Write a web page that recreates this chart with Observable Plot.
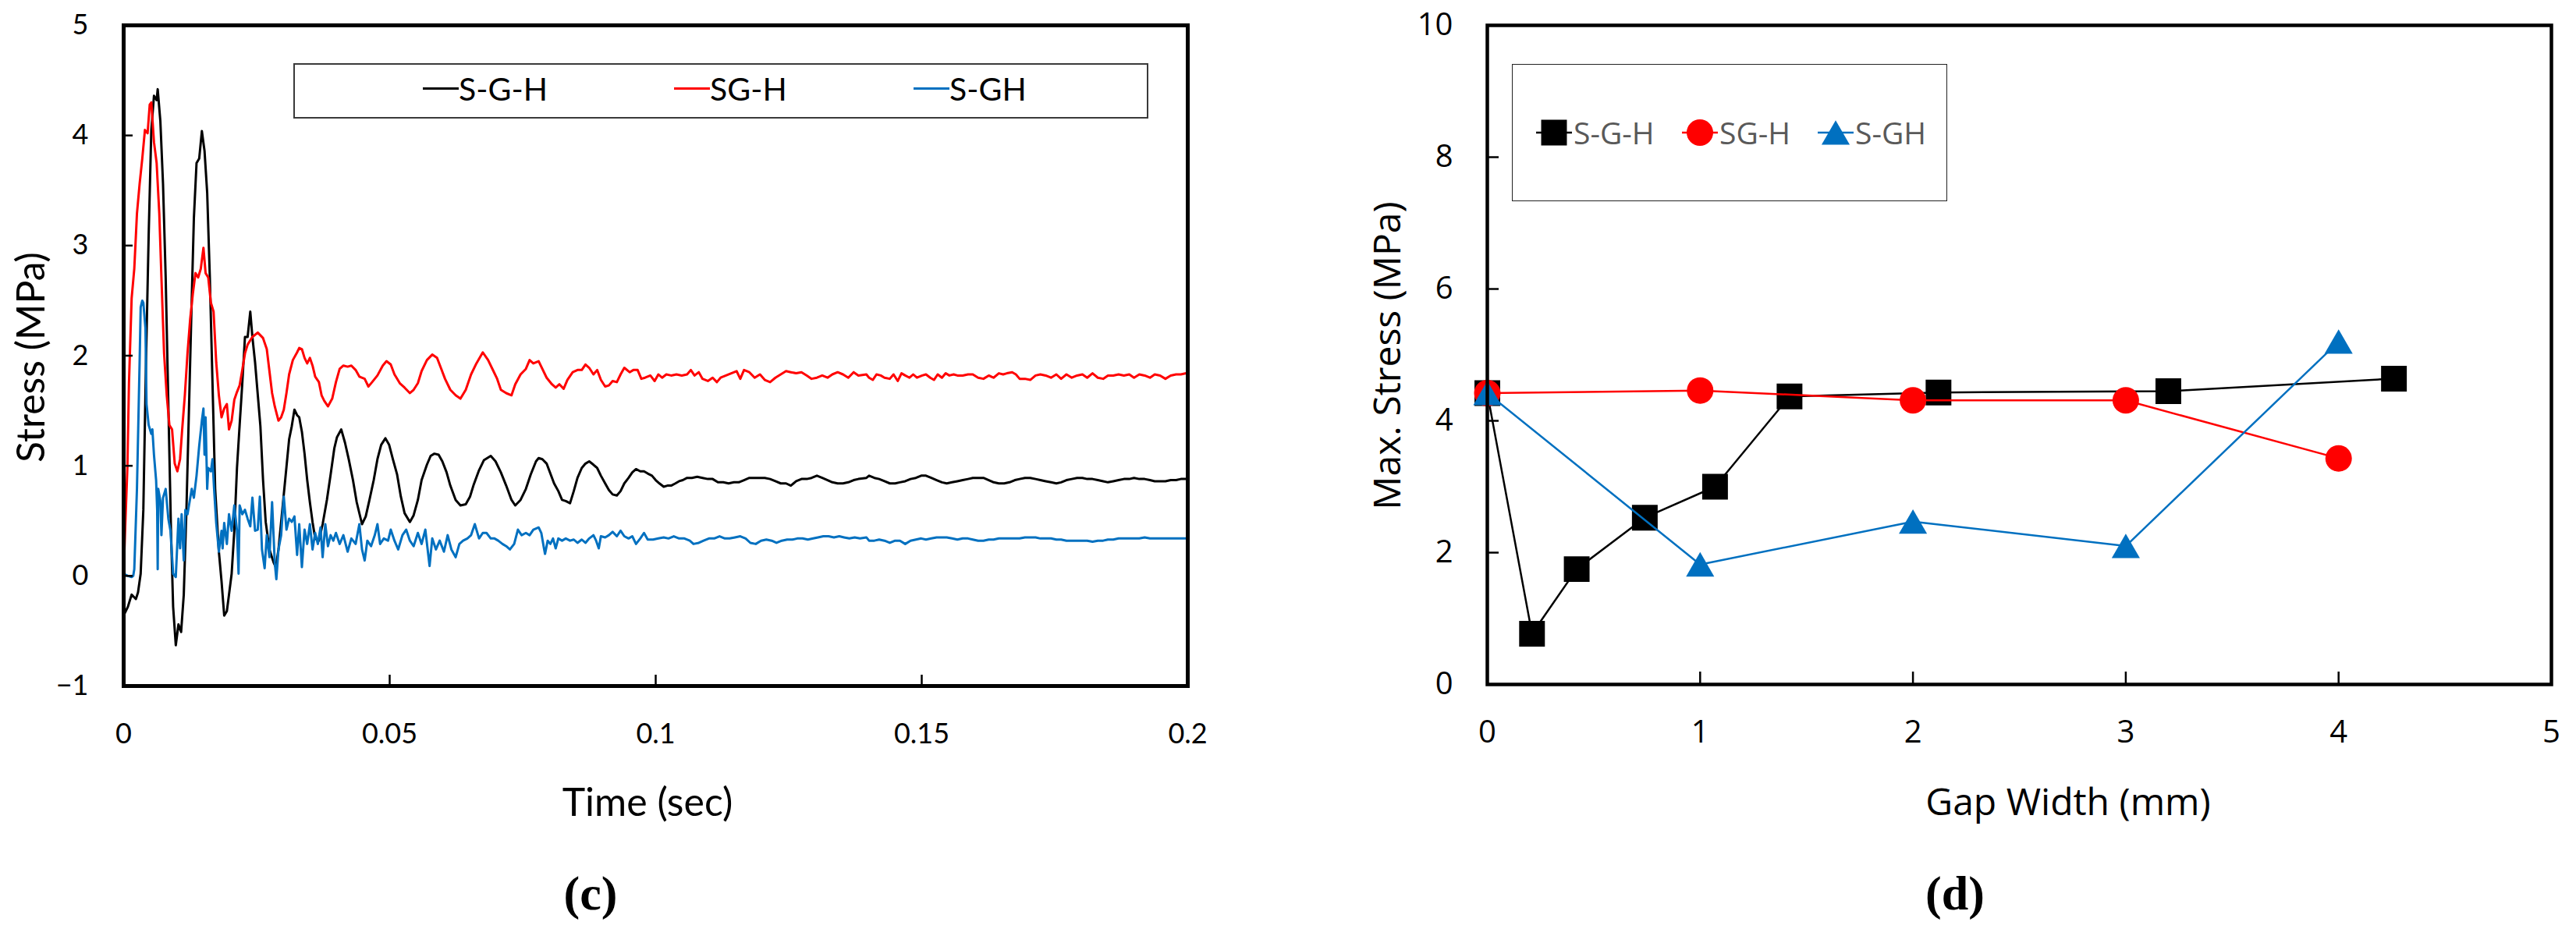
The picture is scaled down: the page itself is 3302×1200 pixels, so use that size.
<!DOCTYPE html>
<html>
<head>
<meta charset="utf-8">
<script src="https://cdn.jsdelivr.net/npm/d3@7"></script>
<script src="https://cdn.jsdelivr.net/npm/@observablehq/plot@0.6"></script>
<style>
  html, body { margin: 0; padding: 0; background: #fff; }
  #page { position: relative; width: 3302px; height: 1200px; overflow: hidden; background: #fff; }
  .abs { position: absolute; white-space: nowrap; }
  .lato { font-family: Lato, sans-serif; color: #000; }
  .open { font-family: "Open Sans", sans-serif; color: #000; }
  .cap { font-family: "Liberation Serif", "Times New Roman", serif; font-weight: bold; font-size: 62px; line-height: 62px; }
</style>
</head>
<body>
<div id="page"></div>
<script>
// ---------- data ----------
const seriesNames = ["S-G-H", "SG-H", "S-GH"];
const seriesColors = ["#000000", "#ff0000", "#0070c0"];
const seriesSymbols = ["square", "circle", "triangle"];

const timeTicks = [0, 0.05, 0.1, 0.15, 0.2];
const stressTicks = [-1, 0, 1, 2, 3, 4, 5];
const gapTicks = [0, 1, 2, 3, 4, 5];
const maxStressTicks = [0, 2, 4, 6, 8, 10];

// (c) stress history [time s, stress MPa]
const timeSGH = [
[0,-0.36],[0.0008,-0.28],[0.0015,-0.17],[0.0023,-0.21],[0.0027,-0.15],[0.0032,0.02],[0.0037,0.6],[0.0042,1.94],[0.0047,3.09],[0.0052,4.05],[0.0057,4.36],[0.0062,4.32],[0.0064,4.42],[0.0069,4.13],[0.0074,3.56],[0.0079,2.71],[0.0084,1.56],[0.0089,0.41],[0.0093,-0.28],[0.0098,-0.63],[0.0103,-0.44],[0.0108,-0.51],[0.0113,-0.17],[0.0118,0.6],[0.0123,1.56],[0.0128,2.52],[0.0132,3.25],[0.0137,3.75],[0.0142,3.79],[0.0147,4.04],[0.0152,3.86],[0.0157,3.48],[0.0162,2.71],[0.0167,1.75],[0.0172,0.79],[0.0179,0.22],[0.0184,-0.05],[0.0189,-0.36],[0.0194,-0.32],[0.0198,-0.17],[0.0203,0.02],[0.0208,0.41],[0.0213,0.98],[0.0218,1.37],[0.0223,1.75],[0.0228,2.17],[0.0233,2.17],[0.0238,2.40],[0.0242,2.17],[0.0247,1.94],
[0.0257,1.36],[0.0262,0.87],[0.0267,0.49],[0.0274,0.24],[0.0282,0.12],[0.0286,0.08],[0.0291,0.24],[0.0296,0.49],[0.0301,0.74],[0.0306,0.99],[0.0311,1.24],[0.0316,1.36],[0.0321,1.51],[0.0326,1.46],[0.0330,1.44],[0.0335,1.31],[0.0340,1.11],[0.0345,0.87],[0.0350,0.67],[0.0355,0.49],[0.0360,0.34],[0.0367,0.32],[0.0374,0.47],[0.0382,0.69],[0.0389,0.92],[0.0396,1.16],[0.0401,1.26],[0.0409,1.33],[0.0416,1.21],[0.0423,1.06],[0.0431,0.87],[0.0438,0.67],[0.0448,0.47],[0.0455,0.54],[0.0462,0.69],[0.0470,0.87],[0.0477,1.06],[0.0484,1.19],[0.0492,1.25],[0.0499,1.19],[0.0506,1.06],[0.0514,0.92],[0.0521,0.72],[0.0528,0.57],[0.0538,0.49],[0.0545,0.55],[0.0553,0.69],[0.0560,0.87],[0.0570,1.01],[0.0577,1.09],[0.0584,1.11],[0.0592,1.10],[0.0599,1.04],[0.0607,0.94],[0.0614,0.82],[0.0624,0.69],[0.0633,0.64],[0.0643,0.65],[0.0651,0.72],[0.0658,0.83],[0.0668,0.96],[0.0677,1.05],[0.0690,1.09],[0.0699,1.04],[0.0709,0.94],[0.0719,0.82],[0.0729,0.69],[0.0736,0.64],[0.0746,0.69],[0.0756,0.79],[0.0765,0.92],[0.0775,1.04],
[0.0780,1.07],[0.0787,1.06],[0.0795,1.02],[0.0802,0.93],[0.0809,0.84],[0.0817,0.77],[0.0824,0.69],[0.0831,0.68],[0.0839,0.66],[0.0846,0.77],[0.0853,0.89],[0.0861,0.98],[0.0868,1.02],[0.0875,1.04],[0.0883,1.01],[0.0890,0.98],[0.0897,0.91],[0.0905,0.84],[0.0912,0.78],[0.0919,0.74],[0.0927,0.73],[0.0934,0.77],[0.0941,0.84],[0.0949,0.89],[0.0956,0.94],[0.0963,0.97],[0.0971,0.95],[0.0978,0.95],[0.0985,0.93],[0.0993,0.91],[0.1000,0.87],[0.1007,0.84],[0.1015,0.81],[0.1022,0.82],[0.1029,0.82],[0.1037,0.84],[0.1044,0.86],[0.1051,0.87],[0.1059,0.89],[0.1068,0.89],[0.1078,0.90],[0.1088,0.89],[0.1098,0.88],[0.1107,0.88],[0.1117,0.85],[0.1127,0.85],[0.1137,0.84],[0.1147,0.85],[0.1156,0.85],[0.1166,0.87],[0.1176,0.89],[0.1186,0.89],[0.1196,0.89],[0.1205,0.89],[0.1215,0.88],[0.1225,0.86],[0.1235,0.84],[0.1245,0.84],[0.1254,0.82],[0.1264,0.86],[0.1274,0.88],[0.1284,0.88],[0.1293,0.89],[0.1303,0.91],[0.1313,0.89],[0.1323,0.87],[0.1332,0.85],[0.1342,0.84],[0.1352,0.84],[0.1362,0.85],[0.1372,0.87],[0.1381,0.88],[0.1396,0.89],
[0.1401,0.91],[0.1411,0.89],[0.1420,0.88],[0.1430,0.86],[0.1440,0.84],[0.1450,0.84],[0.1459,0.85],[0.1469,0.86],[0.1479,0.88],[0.1489,0.89],[0.1499,0.91],[0.1508,0.91],[0.1518,0.89],[0.1528,0.87],[0.1538,0.85],[0.1547,0.84],[0.1557,0.85],[0.1567,0.86],[0.1577,0.87],[0.1587,0.88],[0.1596,0.89],[0.1606,0.89],[0.1616,0.89],[0.1626,0.87],[0.1635,0.85],[0.1645,0.84],[0.1655,0.84],[0.1665,0.85],[0.1675,0.87],[0.1684,0.88],[0.1694,0.89],[0.1704,0.89],[0.1714,0.88],[0.1723,0.87],[0.1733,0.86],[0.1743,0.85],[0.1753,0.84],[0.1762,0.85],[0.1772,0.87],[0.1782,0.88],[0.1792,0.89],[0.1802,0.89],[0.1811,0.88],[0.1821,0.88],[0.1831,0.87],[0.1841,0.86],[0.1850,0.85],[0.1860,0.86],[0.1870,0.87],[0.1880,0.88],[0.1890,0.88],[0.1899,0.89],[0.1909,0.88],[0.1919,0.88],[0.1929,0.87],[0.1938,0.86],[0.1948,0.86],[0.1958,0.86],[0.1968,0.87],[0.1978,0.87],[0.1987,0.88],[0.2,0.88]
];

const timeSG_H = [
[0,0.02],[0.0003,0.45],[0.0007,0.98],[0.001,1.75],[0.0015,2.52],[0.002,2.79],[0.0025,3.29],[0.003,3.56],[0.0035,3.79],[0.004,4.05],[0.0045,4.02],[0.0049,4.28],[0.0052,4.30],[0.0057,3.94],[0.0062,3.75],[0.0067,3.29],[0.0071,2.71],[0.0076,2.02],[0.0081,1.64],[0.0086,1.37],[0.0091,1.33],[0.0096,1.02],[0.0101,0.95],[0.0106,1.06],[0.011,1.33],[0.0115,1.64],[0.012,2.02],[0.0125,2.33],[0.013,2.56],[0.0135,2.75],[0.014,2.71],[0.0145,2.79],[0.015,2.98],[0.0154,2.75],[0.0159,2.71],[0.0164,2.48],[0.0169,2.40],[0.0174,1.94],[0.0179,1.64],[0.0184,1.44],[0.0189,1.52],[0.0194,1.56],[0.0198,1.33],[0.0203,1.41],[0.0208,1.60],[0.0213,1.67],[0.0218,1.73],[0.0223,1.87],[0.0228,2.02],[0.0233,2.10],[0.0238,2.14],[0.0242,2.17],[0.0252,2.21],
[0.0262,2.16],[0.0269,2.06],[0.0274,1.86],[0.0279,1.66],[0.0284,1.54],[0.0291,1.41],[0.0296,1.44],[0.0301,1.51],[0.0306,1.66],[0.0311,1.83],[0.0318,1.96],[0.0326,2.03],[0.0330,2.07],[0.0335,2.06],[0.0340,1.98],[0.0345,1.93],[0.0350,1.98],[0.0355,1.91],[0.0360,1.81],[0.0367,1.76],[0.0372,1.64],[0.0377,1.59],[0.0384,1.54],[0.0392,1.61],[0.0399,1.76],[0.0406,1.88],[0.0413,1.91],[0.0421,1.90],[0.0428,1.91],[0.0436,1.87],[0.0443,1.81],[0.0453,1.79],[0.0460,1.72],[0.0467,1.76],[0.0477,1.82],[0.0487,1.91],[0.0494,1.95],[0.0502,1.92],[0.0509,1.83],[0.0519,1.75],[0.0528,1.71],[0.0538,1.66],[0.0545,1.69],[0.0553,1.75],[0.0560,1.86],[0.0570,1.96],[0.0580,2.01],[0.0589,1.98],[0.0597,1.88],[0.0604,1.79],[0.0614,1.69],[0.0624,1.64],[0.0633,1.61],[0.0643,1.69],[0.0653,1.83],[0.0663,1.93],[0.0675,2.03],[0.0685,1.96],[0.0695,1.86],[0.0702,1.79],[0.0709,1.69],[0.0719,1.66],[0.0729,1.64],[0.0736,1.74],[0.0746,1.83],[0.0756,1.88],[0.0763,1.96],[0.0770,1.93],[0.0780,1.95],
[0.0795,1.80],[0.0805,1.74],[0.0812,1.71],[0.0819,1.74],[0.0827,1.70],[0.0834,1.78],[0.0844,1.85],[0.0853,1.87],[0.0861,1.87],[0.0868,1.92],[0.0875,1.89],[0.0883,1.83],[0.0890,1.87],[0.0897,1.78],[0.0905,1.72],[0.0912,1.73],[0.0919,1.77],[0.0927,1.76],[0.0934,1.83],[0.0941,1.89],[0.0951,1.85],[0.0958,1.87],[0.0966,1.87],[0.0973,1.79],[0.0980,1.80],[0.0990,1.82],[0.0998,1.77],[0.1005,1.83],[0.1012,1.80],[0.1020,1.83],[0.1029,1.82],[0.1039,1.83],[0.1049,1.82],[0.1059,1.83],[0.1066,1.87],[0.1073,1.82],[0.1081,1.85],[0.1088,1.79],[0.1098,1.77],[0.1107,1.80],[0.1115,1.76],[0.1122,1.80],[0.1132,1.82],[0.1142,1.84],[0.1152,1.86],[0.1159,1.79],[0.1166,1.87],[0.1176,1.85],[0.1186,1.80],[0.1196,1.83],[0.1205,1.78],[0.1215,1.76],[0.1225,1.80],[0.1235,1.83],[0.1245,1.86],[0.1254,1.85],[0.1264,1.84],[0.1274,1.85],[0.1284,1.82],[0.1293,1.79],[0.1303,1.80],[0.1313,1.82],[0.1323,1.80],[0.1332,1.83],[0.1342,1.85],[0.1352,1.83],[0.1362,1.80],[0.1372,1.85],[0.1381,1.82],[0.1396,1.83],
[0.1401,1.80],[0.1408,1.78],[0.1415,1.83],[0.1423,1.82],[0.1430,1.80],[0.1440,1.79],[0.1447,1.83],[0.1455,1.77],[0.1462,1.84],[0.1469,1.82],[0.1477,1.80],[0.1484,1.83],[0.1491,1.80],[0.1501,1.82],[0.1508,1.83],[0.1516,1.80],[0.1523,1.78],[0.1530,1.83],[0.1538,1.80],[0.1545,1.84],[0.1552,1.82],[0.1560,1.83],[0.1567,1.82],[0.1577,1.82],[0.1587,1.83],[0.1596,1.83],[0.1606,1.80],[0.1616,1.79],[0.1626,1.82],[0.1635,1.80],[0.1645,1.84],[0.1653,1.83],[0.1660,1.84],[0.1670,1.85],[0.1677,1.83],[0.1684,1.79],[0.1694,1.79],[0.1704,1.78],[0.1714,1.82],[0.1723,1.83],[0.1733,1.82],[0.1743,1.80],[0.1753,1.83],[0.1762,1.79],[0.1772,1.83],[0.1782,1.80],[0.1792,1.82],[0.1802,1.83],[0.1811,1.80],[0.1821,1.84],[0.1831,1.80],[0.1841,1.79],[0.1850,1.82],[0.1860,1.82],[0.1870,1.83],[0.1880,1.82],[0.1890,1.83],[0.1899,1.80],[0.1909,1.83],[0.1919,1.82],[0.1929,1.80],[0.1938,1.83],[0.1948,1.82],[0.1958,1.79],[0.1968,1.82],[0.1978,1.83],[0.1987,1.83],[0.1997,1.84],[0.2,1.83]
];

const timeS_GH = [
[0,0.02],[0.0008,0],[0.0015,-0.01],[0.0018,0.0],[0.002,0.06],[0.0025,0.79],[0.003,1.94],[0.0032,2.44],[0.0035,2.50],[0.0037,2.48],[0.0041,2.25],[0.0043,1.56],[0.0047,1.37],[0.0052,1.29],[0.0054,1.33],[0.0057,1.10],[0.0061,0.87],[0.0063,0.60],[0.0064,0.06],[0.0065,0.79],[0.0069,0.68],[0.0071,0.37],[0.0074,0.71],[0.0079,0.79],[0.0084,0.52],[0.0088,0.41],[0.0093,0.02],[0.0098,-0.01],[0.0103,0.52],[0.0106,0.25],[0.0109,0.56],[0.0113,0.14],[0.0116,0.60],[0.012,0.56],[0.0128,0.79],[0.0132,0.71],[0.0137,0.91],[0.0142,1.18],[0.0147,1.41],[0.015,1.52],[0.0152,1.10],[0.0154,1.44],[0.0157,0.79],[0.0159,0.98],[0.0164,0.95],[0.0167,1.06],[0.017,0.79],[0.0174,0.48],[0.0179,0.22],[0.0184,0.41],[0.0186,0.25],[0.0189,0.48],[0.0194,0.29],[0.0198,0.56],[0.0203,0.41],[0.0208,0.64],[0.0213,0.41],[0.0216,0.02],[0.0218,0.64],[0.0223,0.56],[0.0228,0.60],[0.0233,0.52],[0.0238,0.45],[0.0242,0.71],[0.0247,0.41],
[0.0252,0.42],[0.0256,0.72],[0.026,0.24],[0.0265,0.07],[0.0269,0.37],[0.0274,0.17],[0.0279,0.67],[0.0284,0.12],[0.0287,-0.03],[0.0291,0.24],[0.0296,0.37],[0.0301,0.72],[0.0306,0.42],[0.0311,0.52],[0.0316,0.49],[0.0321,0.54],[0.0326,0.19],[0.033,0.47],[0.0335,0.08],[0.034,0.42],[0.0345,0.29],[0.035,0.47],[0.0355,0.24],[0.036,0.39],[0.0365,0.29],[0.037,0.44],[0.0374,0.17],[0.0379,0.47],[0.0384,0.27],[0.0389,0.37],[0.0394,0.32],[0.0399,0.39],[0.0406,0.29],[0.0413,0.37],[0.0421,0.22],[0.0428,0.34],[0.0436,0.29],[0.0443,0.47],[0.0448,0.24],[0.0453,0.14],[0.0458,0.32],[0.0465,0.27],[0.0472,0.37],[0.0477,0.47],[0.0482,0.29],[0.0489,0.34],[0.0497,0.32],[0.0502,0.42],[0.0509,0.32],[0.0516,0.24],[0.0524,0.37],[0.0531,0.42],[0.0538,0.32],[0.0545,0.27],[0.0553,0.39],[0.056,0.29],[0.0567,0.42],[0.0575,0.09],[0.058,0.34],[0.0587,0.24],[0.0594,0.32],[0.0602,0.22],[0.0609,0.37],[0.0616,0.24],[0.0624,0.17],[0.0631,0.29],[0.0638,0.32],[0.0646,0.34],[0.0653,0.37],[0.066,0.47],[0.0668,0.34],[0.0675,0.39],[0.0682,0.39],[0.069,0.34],[0.0697,0.34],[0.0704,0.32],[0.0712,0.29],[0.0719,0.27],[0.0726,0.24],[0.0734,0.29],[0.0741,0.42],[0.0748,0.37],[0.0756,0.39],[0.0763,0.37],[0.077,0.42],[0.078,0.44],
[0.0785,0.39],[0.079,0.25],[0.0792,0.20],[0.0797,0.32],[0.0802,0.29],[0.0807,0.34],[0.0812,0.25],[0.0817,0.34],[0.0824,0.32],[0.0831,0.34],[0.0839,0.32],[0.0846,0.33],[0.0853,0.30],[0.0861,0.33],[0.0868,0.30],[0.0875,0.34],[0.0883,0.37],[0.0888,0.32],[0.0893,0.25],[0.0897,0.36],[0.0905,0.35],[0.0912,0.37],[0.0919,0.40],[0.0927,0.36],[0.0934,0.41],[0.0941,0.36],[0.0949,0.34],[0.0956,0.36],[0.0963,0.29],[0.0971,0.34],[0.0978,0.39],[0.0985,0.33],[0.0995,0.33],[0.1005,0.34],[0.1015,0.35],[0.1024,0.34],[0.1034,0.36],[0.1044,0.34],[0.1054,0.34],[0.1064,0.32],[0.1071,0.29],[0.1081,0.30],[0.109,0.32],[0.11,0.34],[0.111,0.34],[0.112,0.36],[0.113,0.34],[0.1139,0.34],[0.1149,0.35],[0.1159,0.36],[0.1169,0.34],[0.1178,0.30],[0.1188,0.29],[0.1198,0.32],[0.1208,0.33],[0.1218,0.32],[0.1227,0.30],[0.1237,0.32],[0.1247,0.33],[0.1257,0.33],[0.1266,0.34],[0.1276,0.34],[0.1286,0.33],[0.1296,0.34],[0.1305,0.35],[0.1315,0.36],[0.1325,0.36],[0.1335,0.35],[0.1345,0.36],[0.1354,0.35],[0.1364,0.34],[0.1374,0.35],[0.1384,0.34],[0.1396,0.35],
[0.1401,0.32],[0.1411,0.32],[0.142,0.33],[0.143,0.32],[0.144,0.30],[0.145,0.32],[0.1459,0.32],[0.1469,0.29],[0.1479,0.32],[0.1489,0.33],[0.1499,0.34],[0.1508,0.33],[0.1518,0.34],[0.1528,0.35],[0.1538,0.35],[0.1547,0.35],[0.1557,0.34],[0.1567,0.33],[0.1577,0.34],[0.1587,0.34],[0.1596,0.33],[0.1606,0.32],[0.1616,0.32],[0.1626,0.33],[0.1635,0.33],[0.1645,0.34],[0.1655,0.34],[0.1665,0.34],[0.1675,0.34],[0.1684,0.34],[0.1694,0.35],[0.1704,0.35],[0.1714,0.35],[0.1723,0.34],[0.1733,0.34],[0.1743,0.34],[0.1753,0.33],[0.1762,0.33],[0.1772,0.32],[0.1782,0.32],[0.1792,0.32],[0.1802,0.32],[0.1811,0.32],[0.1821,0.31],[0.1831,0.32],[0.1841,0.32],[0.185,0.33],[0.186,0.33],[0.187,0.34],[0.188,0.34],[0.189,0.34],[0.1899,0.34],[0.1909,0.34],[0.1919,0.35],[0.1929,0.34],[0.1938,0.34],[0.1948,0.34],[0.1958,0.34],[0.1968,0.34],[0.1978,0.34],[0.1987,0.34],[0.2,0.34]
];

// (d) max stress vs gap width [gap mm, max stress MPa]
const gapSGH  = [[0,4.42],[0.21,0.77],[0.42,1.75],[0.74,2.53],[1.07,3.0],[1.42,4.37],[2.12,4.43],[3.2,4.45],[4.26,4.64]];
const gapSG_H = [[0,4.42],[1,4.46],[2,4.31],[3,4.31],[4,3.43]];
const gapS_GH = [[0,4.42],[1,1.82],[2,2.47],[3,2.1],[4,5.2]];

// ---------- helpers ----------
const page = document.getElementById("page");
const fmt = d => (d < 0 ? "\u2212" + Math.abs(d) : String(d));
const X = d => d[0], Y = d => d[1];

function place(node, left, top) {
  const wrap = document.createElement("div");
  wrap.className = "abs";
  wrap.style.left = left + "px";
  wrap.style.top = top + "px";
  wrap.appendChild(node);
  page.appendChild(wrap);
  return wrap;
}
function addText(text, cls, css) {
  const d = document.createElement("div");
  d.className = "abs " + cls;
  d.textContent = text;
  Object.assign(d.style, css);
  page.appendChild(d);
  return d;
}

// ---------- (c) ----------
const timeData = [timeSGH, timeSG_H, timeS_GH];
const left = Plot.plot({
  width: 1560, height: 1000,
  marginLeft: 158, marginRight: 38, marginTop: 32, marginBottom: 121,
  x: {domain: [0, 0.2], label: null},
  y: {domain: [-1, 5], label: null},
  style: {fontFamily: "Lato, sans-serif", fontSize: "36px", color: "#000", background: "transparent", overflow: "visible"},
  marks: [
    ...timeData.map((s, i) => Plot.line(s, {x: X, y: Y, stroke: seriesColors[i], strokeWidth: 3, strokeLinejoin: "round"})),
    Plot.frame({stroke: "#000", strokeWidth: 5}),
    Plot.axisX(timeTicks, {tickSize: 14, dy: -14, tickFormat: () => "", strokeWidth: 2.5, label: null}),
    Plot.axisX(timeTicks, {tickSize: 0, tickPadding: 48, tickFormat: fmt, fontSize: 36, label: null}),
    Plot.axisY(stressTicks, {tickSize: 12, dx: 12, tickFormat: () => "", strokeWidth: 2.5, label: null}),
    Plot.axisY(stressTicks, {tickSize: 0, tickPadding: 45, tickFormat: fmt, fontSize: 36, label: null})
  ]
});
place(left, 0, 0);

addText("Stress (MPa)", "lato", {left: "38px", top: "458px", fontSize: "50px", lineHeight: "50px", transform: "translate(-50%,-50%) rotate(-90deg)"});
addText("Time (sec)", "lato", {left: "530px", width: "600px", textAlign: "center", top: "1002px", fontSize: "50px", lineHeight: "50px"});
addText("(c)", "cap", {left: "657px", width: "200px", textAlign: "center", top: "1114px"});

// legend (c)
const legC = document.createElement("div");
legC.className = "abs";
Object.assign(legC.style, {left: "376px", top: "81px", width: "1096px", height: "71px", border: "2px solid #3a3a3a", boxSizing: "border-box", background: "#fff"});
page.appendChild(legC);
const legCX = [542, 864, 1171];
seriesNames.forEach((name, i) => {
  const sw = document.createElement("div");
  sw.className = "abs";
  Object.assign(sw.style, {left: legCX[i] + "px", top: "112px", width: "46px", height: "3px", background: seriesColors[i]});
  page.appendChild(sw);
  addText(name, "lato", {left: (legCX[i] + 46) + "px", top: "93px", fontSize: "41px", lineHeight: "41px"});
});

// ---------- (d) ----------
const gapData = [gapSGH, gapSG_H, gapS_GH];
const symR = [18.6, 17, 13.4];
const symDy = [0, 0, 5];
const right = Plot.plot({
  width: 1602, height: 1000,
  marginLeft: 206, marginRight: 32, marginTop: 32, marginBottom: 123,
  x: {domain: [0, 5], label: null},
  y: {domain: [0, 10], label: null},
  style: {fontFamily: "'Open Sans', sans-serif", fontSize: "40px", color: "#000", background: "transparent", overflow: "visible"},
  marks: [
    ...gapData.flatMap((s, i) => [
      Plot.line(s, {x: X, y: Y, stroke: seriesColors[i], strokeWidth: 2.5}),
      Plot.dot(s, {x: X, y: Y, symbol: seriesSymbols[i], r: symR[i], fill: seriesColors[i], stroke: "none", dy: symDy[i]})
    ]),
    Plot.frame({stroke: "#000", strokeWidth: 4.5}),
    Plot.axisX(gapTicks, {tickSize: 16, dy: -16, tickFormat: () => "", strokeWidth: 2.5, label: null}),
    Plot.axisX(gapTicks, {tickSize: 0, tickPadding: 46, tickFormat: fmt, fontSize: 40, label: null}),
    Plot.axisY(maxStressTicks, {tickSize: 15, dx: 15, tickFormat: () => "", strokeWidth: 2.5, label: null}),
    Plot.axisY(maxStressTicks, {tickSize: 0, tickPadding: 44, tickFormat: fmt, fontSize: 40, label: null})
  ]
});
place(right, 1700, 0);

addText("Max. Stress (MPa)", "open", {left: "1777px", top: "456px", fontSize: "48px", lineHeight: "48px", transform: "translate(-50%,-50%) rotate(-90deg)"});
addText("Gap Width (mm)", "open", {left: "2351px", width: "600px", textAlign: "center", top: "1003px", fontSize: "48px", lineHeight: "48px"});
addText("(d)", "cap", {left: "2406px", width: "200px", textAlign: "center", top: "1114px"});

// legend (d)
const legD = document.createElement("div");
legD.className = "abs";
Object.assign(legD.style, {left: "1938px", top: "82px", width: "558px", height: "176px", border: "1.5px solid #222", boxSizing: "border-box", background: "#fff"});
page.appendChild(legD);
const legDX = [1969, 2156, 2330];
const NS = "http://www.w3.org/2000/svg";
seriesNames.forEach((name, i) => {
  const svg = document.createElementNS(NS, "svg");
  svg.setAttribute("width", 46); svg.setAttribute("height", 40);
  const ln = document.createElementNS(NS, "line");
  ln.setAttribute("x1", 0); ln.setAttribute("x2", 46); ln.setAttribute("y1", 20); ln.setAttribute("y2", 20);
  ln.setAttribute("stroke", seriesColors[i]); ln.setAttribute("stroke-width", 2.5);
  svg.appendChild(ln);
  const p = document.createElementNS(NS, "path");
  p.setAttribute("transform", `translate(23,${20 + symDy[i]})`);
  const sym = {square: d3.symbolSquare, circle: d3.symbolCircle, triangle: d3.symbolTriangle}[seriesSymbols[i]];
  p.setAttribute("d", d3.symbol(sym, symR[i] * symR[i] * Math.PI)());
  p.setAttribute("fill", seriesColors[i]);
  svg.appendChild(p);
  const w = document.createElement("div");
  w.className = "abs";
  Object.assign(w.style, {left: legDX[i] + "px", top: "150px", lineHeight: "0"});
  w.appendChild(svg);
  page.appendChild(w);
  addText(name, "open", {left: (legDX[i] + 48) + "px", top: "150px", fontSize: "39px", lineHeight: "39px", color: "#595959"});
});
</script>
</body>
</html>
